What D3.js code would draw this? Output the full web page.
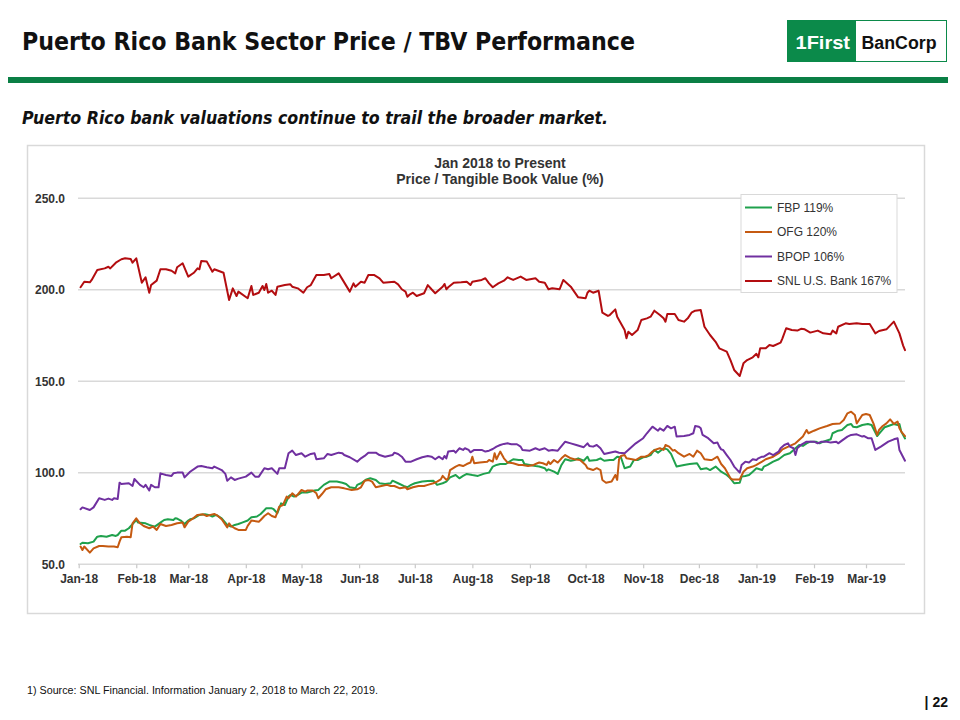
<!DOCTYPE html>
<html><head><meta charset="utf-8">
<script src="https://cdn.jsdelivr.net/npm/d3@7"></script>
<style>body{margin:0;background:#fff}svg{display:block}</style>
</head><body>
<svg id="c" width="960" height="720"></svg>
<script>
const seriesNames = ["FBP", "OFG", "BPOP", "SNL U.S. Bank"];
const legendLabels = ["FBP 119%", "OFG 120%", "BPOP 106%", "SNL U.S. Bank 167%"];
const seriesColors = ["#1fa14c", "#c55a11", "#7030a0", "#b30d10"];
const yTicks = [50, 100, 150, 200, 250];
const xDomain = ["18-01-01", "19-03-22"];

const fbp = [["18-01-02",61.1],["18-01-03",61.8],["18-01-06",61.5],["18-01-09",62.4],["18-01-11",65.1],["18-01-13",65.5],["18-01-16",65.1],["18-01-19",66],["18-01-21",65.5],["18-01-22",66],["18-01-24",68.4],["18-01-26",68.4],["18-01-28",69.7],["18-01-30",72],["18-02-01",74.2],["18-02-02",72.8],["18-02-06",72.4],["18-02-08",71.5],["18-02-11",70.6],["18-02-14",72.8],["18-02-16",74.2],["18-02-18",74.6],["18-02-21",74.2],["18-02-22",75.1],["18-02-23",75],["18-02-25",73.9],["18-02-27",72],["18-03-01",73.9],["18-03-02",74.6],["18-03-04",75.1],["18-03-07",77],["18-03-10",77.3],["18-03-12",77],["18-03-14",76.1],["18-03-16",77],["18-03-19",75.1],["18-03-22",71.5],["18-03-24",70.6],["18-03-26",71.5],["18-03-28",72],["18-03-30",72.8],["18-04-02",73.9],["18-04-04",75.7],["18-04-07",76.1],["18-04-09",77.5],["18-04-12",80.6],["18-04-15",80.6],["18-04-16",80.1],["18-04-18",77.9],["18-04-20",83.3],["18-04-22",82.4],["18-04-24",87],["18-04-25",87.9],["18-04-27",87],["18-04-29",87.9],["18-05-01",89.2],["18-05-04",89.2],["18-05-06",89.7],["18-05-08",90.3],["18-05-10",90.6],["18-05-13",93.4],["18-05-16",95.2],["18-05-20",95.2],["18-05-23",94.6],["18-05-25",93.9],["18-05-27",92.1],["18-05-30",91.5],["18-05-31",93.4],["18-06-02",94.3],["18-06-05",96.4],["18-06-07",97],["18-06-10",96.1],["18-06-12",94.3],["18-06-15",93.9],["18-06-18",94.3],["18-06-19",95.7],["18-06-22",94.3],["18-06-25",92.8],["18-06-27",92.1],["18-06-29",93.4],["18-07-01",94.3],["18-07-05",95.2],["18-07-08",95.5],["18-07-11",95.7],["18-07-13",93.4],["18-07-16",94.3],["18-07-18",95.2],["18-07-20",97.5],["18-07-23",98.8],["18-07-25",97],["18-07-27",98.3],["18-07-29",99.4],["18-08-01",98.8],["18-08-04",98.3],["18-08-07",99.4],["18-08-10",100.1],["18-08-12",103.4],["18-08-14",104.3],["18-08-16",104.8],["18-08-19",104.8],["18-08-21",106.1],["18-08-23",107.4],["18-08-26",107],["18-08-28",107],["18-08-29",104.8],["18-09-01",104.3],["18-09-04",103.7],["18-09-06",103.4],["18-09-09",102.5],["18-09-10",101.2],["18-09-11",101.9],["18-09-14",100.6],["18-09-16",99.4],["18-09-18",104.3],["18-09-20",107.4],["18-09-23",106.6],["18-09-25",107],["18-09-27",107.9],["18-09-30",106.6],["18-10-02",108.8],["18-10-03",106.6],["18-10-07",107],["18-10-09",107.9],["18-10-11",106.6],["18-10-14",107],["18-10-16",107],["18-10-18",108.8],["18-10-20",108.5],["18-10-22",102.5],["18-10-25",103.4],["18-10-27",107],["18-10-29",107],["18-11-01",108.5],["18-11-03",108.8],["18-11-05",109.7],["18-11-07",112.5],["18-11-09",111],["18-11-12",113.4],["18-11-14",112.8],["18-11-16",110.3],["18-11-19",103.4],["18-11-23",104.3],["18-11-26",104.8],["18-11-30",105.2],["18-12-02",101.9],["18-12-05",102.5],["18-12-07",101.5],["18-12-10",103.4],["18-12-13",100.6],["18-12-16",98.8],["18-12-18",97],["18-12-20",94.3],["18-12-23",94.6],["18-12-24",97.9],["18-12-26",98.3],["18-12-28",98.8],["18-12-30",100.6],["19-01-01",102.5],["19-01-04",101.5],["19-01-05",103.4],["19-01-07",104.3],["19-01-10",106.1],["19-01-13",107.4],["19-01-16",109.7],["19-01-19",110.7],["19-01-21",112.5],["19-01-24",115.2],["19-01-26",114.7],["19-01-28",116.1],["19-01-30",117],["19-02-02",117],["19-02-04",116.1],["19-02-06",117],["19-02-10",118.3],["19-02-11",121.6],["19-02-14",123],["19-02-16",123.4],["19-02-19",126.1],["19-02-21",126.7],["19-02-22",125.2],["19-02-24",124.9],["19-02-27",126.1],["19-03-02",126.7],["19-03-04",126.1],["19-03-07",120.1],["19-03-09",122.5],["19-03-11",124.9],["19-03-13",125.6],["19-03-16",126.7],["19-03-18",126.1],["19-03-19",126.7],["19-03-20",122.5],["19-03-22",118.8]];

const ofg = [["18-01-02",59.7],["18-01-03",57.8],["18-01-04",59.7],["18-01-07",56.4],["18-01-09",58.7],["18-01-12",60],["18-01-14",60],["18-01-17",59.7],["18-01-20",59.7],["18-01-22",59.3],["18-01-23",62.4],["18-01-24",64.8],["18-01-27",65.1],["18-01-29",64.8],["18-01-30",72.4],["18-02-01",75.1],["18-02-03",72.4],["18-02-05",70.9],["18-02-08",69.7],["18-02-10",70.6],["18-02-12",68.8],["18-02-14",72],["18-02-17",70.9],["18-02-20",71.5],["18-02-23",72.4],["18-02-26",72.8],["18-02-27",70.2],["18-03-01",73.3],["18-03-03",74.6],["18-03-06",77],["18-03-09",77.3],["18-03-11",76.4],["18-03-13",77],["18-03-15",77.5],["18-03-17",76.4],["18-03-19",74.6],["18-03-22",70.2],["18-03-23",72.4],["18-03-24",71],["18-03-26",69.7],["18-03-28",68.8],["18-04-01",68.8],["18-04-02",71],["18-04-04",73.9],["18-04-08",73.3],["18-04-09",74.2],["18-04-11",76.4],["18-04-13",77.9],["18-04-15",76.4],["18-04-17",75.7],["18-04-19",81.5],["18-04-21",82.4],["18-04-23",87],["18-04-24",86.1],["18-04-26",88.8],["18-04-28",87],["18-05-01",90.6],["18-05-03",89.7],["18-05-04",90.3],["18-05-07",90.3],["18-05-09",88.8],["18-05-10",86.1],["18-05-12",88.4],["18-05-14",91],["18-05-17",92.1],["18-05-21",92.1],["18-05-24",91.5],["18-05-28",90.6],["18-05-31",91],["18-06-02",92.1],["18-06-04",95.7],["18-06-06",96.1],["18-06-08",95.2],["18-06-10",92.1],["18-06-13",92.8],["18-06-16",93.4],["18-06-18",92.8],["18-06-20",92.8],["18-06-23",91.5],["18-06-26",92.1],["18-06-27",91],["18-06-30",92.1],["18-07-03",92.8],["18-07-06",92.8],["18-07-08",93.4],["18-07-11",94.3],["18-07-13",95.2],["18-07-15",96.4],["18-07-16",98.3],["18-07-18",96.1],["18-07-19",97],["18-07-20",101.5],["18-07-23",103.4],["18-07-25",104.3],["18-07-27",103.7],["18-07-29",104.8],["18-07-31",105.6],["18-08-01",108.8],["18-08-02",105.2],["18-08-05",105.6],["18-08-09",106.1],["18-08-10",107],["18-08-12",106.1],["18-08-13",110.7],["18-08-14",107.4],["18-08-16",111.6],["18-08-18",107.9],["18-08-20",105.6],["18-08-23",105.2],["18-08-26",104.3],["18-08-28",104.3],["18-08-31",103.7],["18-09-03",104.3],["18-09-05",105.2],["18-09-06",105.6],["18-09-08",105.2],["18-09-10",104.3],["18-09-11",106.1],["18-09-12",104.8],["18-09-14",107],["18-09-16",105.6],["18-09-18",107.9],["18-09-20",109.7],["18-09-23",107.9],["18-09-25",107.4],["18-09-28",107],["18-10-01",104.3],["18-10-02",102.5],["18-10-05",101.5],["18-10-07",102.5],["18-10-09",101.5],["18-10-10",96.1],["18-10-12",94.6],["18-10-15",95.2],["18-10-17",98.8],["18-10-18",96.1],["18-10-19",107.4],["18-10-20",109.2],["18-10-22",109.7],["18-10-23",107.9],["18-10-26",107.4],["18-10-28",107],["18-10-31",108.8],["18-11-02",108.8],["18-11-04",109.7],["18-11-06",111.6],["18-11-08",112.8],["18-11-10",113.4],["18-11-12",112.5],["18-11-13",115.2],["18-11-15",114.3],["18-11-17",112.1],["18-11-18",112.5],["18-11-20",110.7],["18-11-23",108.8],["18-11-26",110.3],["18-11-28",108.8],["18-11-30",112.1],["18-12-02",110.7],["18-12-04",107.4],["18-12-07",107],["18-12-08",107],["18-12-11",108.8],["18-12-13",104.8],["18-12-15",102.5],["18-12-18",97],["18-12-19",96.4],["18-12-23",96.4],["18-12-25",100.6],["18-12-27",102.5],["18-12-30",103.4],["19-01-01",104.3],["19-01-04",106.1],["19-01-06",107.4],["19-01-10",108.8],["19-01-13",110.7],["19-01-15",112.8],["19-01-19",114.7],["19-01-22",116.1],["19-01-26",119.8],["19-01-28",123.4],["19-01-29",121.6],["19-02-01",123],["19-02-04",124.3],["19-02-08",125.6],["19-02-11",126.7],["19-02-15",127],["19-02-17",128.9],["19-02-19",132.5],["19-02-21",133.4],["19-02-23",131.6],["19-02-24",127],["19-02-27",131.6],["19-03-01",132.1],["19-03-03",131.6],["19-03-05",127],["19-03-07",120.7],["19-03-08",123.4],["19-03-10",125.6],["19-03-12",127],["19-03-14",129.2],["19-03-16",126.7],["19-03-18",128],["19-03-19",124.3],["19-03-20",122.5],["19-03-22",120]];

const bpop = [["18-01-02",80.1],["18-01-03",81.1],["18-01-07",79.7],["18-01-09",81.1],["18-01-12",86.1],["18-01-15",85.2],["18-01-17",85.9],["18-01-19",85.2],["18-01-20",86.1],["18-01-22",85.7],["18-01-23",94.6],["18-01-24",93.9],["18-01-28",94.3],["18-01-30",92.8],["18-01-31",96.6],["18-02-03",93.4],["18-02-05",92.1],["18-02-06",93.4],["18-02-08",90.3],["18-02-09",93.4],["18-02-11",92.1],["18-02-13",92.1],["18-02-14",99.7],["18-02-17",98.8],["18-02-20",98.3],["18-02-21",99.7],["18-02-23",100.1],["18-02-26",100.1],["18-02-27",97.5],["18-03-02",100.6],["18-03-06",103.4],["18-03-08",103.7],["18-03-11",103],["18-03-14",102.5],["18-03-15",103.4],["18-03-19",101.5],["18-03-21",99.4],["18-03-22",95.7],["18-03-24",97.5],["18-03-26",96.1],["18-03-28",96.8],["18-04-01",97.9],["18-04-04",100.1],["18-04-06",97.9],["18-04-08",97.9],["18-04-11",102.5],["18-04-13",101.9],["18-04-15",102.5],["18-04-18",99.4],["18-04-19",102.5],["18-04-22",102.5],["18-04-24",110.7],["18-04-26",112.1],["18-04-28",109.7],["18-05-01",110.7],["18-05-03",108.8],["18-05-06",110.3],["18-05-08",110.7],["18-05-09",107.4],["18-05-13",107.9],["18-05-15",110.3],["18-05-17",109.7],["18-05-21",111],["18-05-23",110.7],["18-05-24",109.7],["18-05-27",108.5],["18-05-31",106.1],["18-06-02",107.9],["18-06-04",109.2],["18-06-06",111],["18-06-10",111],["18-06-12",109.7],["18-06-15",108.8],["18-06-19",109.7],["18-06-20",111],["18-06-22",110.3],["18-06-24",108.8],["18-06-26",106.1],["18-06-29",106.1],["18-07-02",107.4],["18-07-05",108.5],["18-07-08",109.2],["18-07-10",108.8],["18-07-12",107.4],["18-07-14",108.8],["18-07-16",107.4],["18-07-17",109.2],["18-07-18",107.9],["18-07-19",111.6],["18-07-22",112.1],["18-07-23",111],["18-07-25",113.4],["18-07-27",112.5],["18-07-28",113.4],["18-07-30",112.5],["18-07-31",111.2],["18-08-02",112.5],["18-08-06",112.5],["18-08-08",111.6],["18-08-10",112.1],["18-08-12",113],["18-08-14",114.3],["18-08-16",115.2],["18-08-18",115.8],["18-08-20",116.1],["18-08-22",115.6],["18-08-25",115.6],["18-08-27",114.3],["18-08-28",112.5],["18-09-01",112.1],["18-09-04",113.4],["18-09-06",112.5],["18-09-09",113.4],["18-09-11",112.1],["18-09-13",112.5],["18-09-16",112.1],["18-09-20",117],["18-09-23",116.1],["18-09-26",115.2],["18-09-30",114],["18-10-02",116.1],["18-10-03",114.7],["18-10-05",114.3],["18-10-07",115.2],["18-10-09",113.4],["18-10-11",110.3],["18-10-14",111],["18-10-17",111.6],["18-10-19",111],["18-10-22",110.7],["18-10-25",113.4],["18-10-28",116.1],["18-11-01",118.9],["18-11-03",121.6],["18-11-06",125.2],["18-11-09",123],["18-11-10",124.3],["18-11-12",123],["18-11-14",125.6],["18-11-16",124.3],["18-11-18",125.2],["18-11-19",119.8],["18-11-23",120.1],["18-11-26",120.7],["18-11-28",121.6],["18-11-29",125.6],["18-12-01",125.2],["18-12-02",124.3],["18-12-03",120.7],["18-12-06",118.9],["18-12-09",116.1],["18-12-11",116.5],["18-12-12",114.3],["18-12-13",112.8],["18-12-14",112.5],["18-12-16",109.7],["18-12-18",107],["18-12-20",103.4],["18-12-23",100.1],["18-12-24",104.3],["18-12-26",106.1],["18-12-28",105.6],["18-12-30",107.4],["19-01-01",107],["19-01-02",107.9],["19-01-04",108.8],["19-01-05",108.8],["19-01-08",110.7],["19-01-10",109.7],["19-01-11",110.3],["19-01-13",111.6],["19-01-14",113.4],["19-01-16",115.2],["19-01-18",116.1],["19-01-19",114.3],["19-01-21",113.4],["19-01-22",109.7],["19-01-23",113.4],["19-01-25",115.2],["19-01-28",117],["19-02-01",117],["19-02-03",116.1],["19-02-05",117],["19-02-08",117],["19-02-10",116.5],["19-02-13",117],["19-02-14",116.1],["19-02-16",117.6],["19-02-19",119.8],["19-02-21",120.7],["19-02-24",121],["19-02-27",119.8],["19-02-28",120.1],["19-03-02",118.9],["19-03-04",118.9],["19-03-06",112.5],["19-03-09",114.3],["19-03-13",117],["19-03-16",118.3],["19-03-18",118.9],["19-03-19",112.5],["19-03-22",106.6]];

const snl = [["18-01-02",201.4],["18-01-04",204.4],["18-01-07",204.1],["18-01-08",205.4],["18-01-11",210.8],["18-01-15",211.7],["18-01-17",212.6],["18-01-18",211.7],["18-01-21",214.8],["18-01-24",216.7],["18-01-26",217.2],["18-01-29",216.8],["18-01-30",214.8],["18-02-01",217.2],["18-02-04",203.9],["18-02-06",206.8],["18-02-08",198.4],["18-02-09",202.6],["18-02-12",205],["18-02-14",211.2],["18-02-17",211.2],["18-02-20",210.4],["18-02-22",209],["18-02-23",212.3],["18-02-26",214.5],["18-03-01",207.2],["18-03-04",209.3],["18-03-06",211.7],["18-03-07",211.2],["18-03-08",215.7],["18-03-11",215.4],["18-03-14",209.9],["18-03-15",211.2],["18-03-20",209.3],["18-03-23",194.4],["18-03-25",200.8],["18-03-27",196.6],["18-03-28",199],["18-04-02",195.4],["18-04-04",202.1],["18-04-05",197.2],["18-04-08",198.4],["18-04-10",202.1],["18-04-11",199.9],["18-04-12",203.2],["18-04-13",198.4],["18-04-15",199.5],["18-04-17",197.2],["18-04-18",201.7],["18-04-22",202.6],["18-04-25",203],["18-04-26",201.7],["18-04-29",200.8],["18-05-02",198.4],["18-05-04",201.4],["18-05-06",202.6],["18-05-09",208.1],["18-05-13",208.1],["18-05-16",208.6],["18-05-17",206.3],["18-05-21",209],["18-05-23",205.7],["18-05-27",199],["18-05-29",203.5],["18-05-30",201.7],["18-06-02",204.4],["18-06-04",203.9],["18-06-06",208.1],["18-06-09",208.1],["18-06-12",206.3],["18-06-14",203.9],["18-06-20",204.4],["18-06-22",203],["18-06-24",200.3],["18-06-26",199],["18-06-27",196.2],["18-06-28",197.2],["18-06-30",198.4],["18-07-02",196.6],["18-07-06",198.1],["18-07-08",202.6],["18-07-10",200.3],["18-07-12",198.1],["18-07-14",199.9],["18-07-16",201.7],["18-07-17",203.2],["18-07-18",200.3],["18-07-19",201.4],["18-07-22",203.9],["18-07-26",204.1],["18-07-29",204.4],["18-07-31",202.6],["18-08-01",204.4],["18-08-06",205.4],["18-08-08",206.3],["18-08-10",203.5],["18-08-12",201.4],["18-08-15",203.5],["18-08-18",205],["18-08-20",206.8],["18-08-23",205.4],["18-08-27",207.2],["18-08-30",205.4],["18-09-04",206.3],["18-09-06",204.4],["18-09-09",203.9],["18-09-11",200.3],["18-09-13",200.8],["18-09-17",200.3],["18-09-19",205.4],["18-09-23",201.7],["18-09-27",195.9],["18-10-01",195.4],["18-10-02",198.4],["18-10-03",199.5],["18-10-05",198.4],["18-10-08",199.5],["18-10-10",187.5],["18-10-13",185.7],["18-10-14",186.2],["18-10-17",189.3],["18-10-18",185.3],["18-10-22",178],["18-10-23",173.5],["18-10-24",177.1],["18-10-26",175.3],["18-10-29",178],["18-10-31",183.5],["18-11-03",184.4],["18-11-05",185.3],["18-11-07",188.6],["18-11-10",186.2],["18-11-12",184.4],["18-11-13",182.6],["18-11-14",186.8],["18-11-18",186.8],["18-11-20",183.5],["18-11-23",182.6],["18-11-25",184.4],["18-11-27",187.5],["18-11-29",188.6],["18-12-02",189],["18-12-04",179.8],["18-12-07",175.3],["18-12-10",171.6],["18-12-12",168],["18-12-16",166.2],["18-12-18",161.6],["18-12-20",156.2],["18-12-23",152.9],["18-12-25",159.8],["18-12-27",161.6],["18-12-30",163.1],["19-01-01",165],["19-01-02",163.1],["19-01-03",168],["19-01-06",168],["19-01-08",169.8],["19-01-10",169.3],["19-01-14",171.1],["19-01-15",173.5],["19-01-17",179],["19-01-20",178],["19-01-23",177.7],["19-01-25",178.7],["19-01-27",178.4],["19-01-30",176.6],["19-02-03",177.7],["19-02-06",176.2],["19-02-10",175.7],["19-02-11",177.7],["19-02-13",176.2],["19-02-14",179.8],["19-02-18",181.7],["19-02-20",181.3],["19-02-24",181.7],["19-02-27",181.3],["19-03-03",181.3],["19-03-06",176.2],["19-03-08",177.5],["19-03-12",178.4],["19-03-16",182.6],["19-03-19",176.2],["19-03-21",169.5],["19-03-22",167]];

const allSeries = [fbp, ofg, bpop, snl];

const parse = d3.timeParse("%y-%m-%d");
const svg = d3.select("#c");
const FONT = "'Liberation Sans', Arial, sans-serif";

// ----- header -----
svg.append("text").attr("x", 22).attr("y", 50)
  .attr("font-family", "'DejaVu Sans Condensed', 'DejaVu Sans', sans-serif")
  .attr("font-weight", "bold").attr("font-size", 25).attr("fill", "#111")
  .attr("textLength", 613).attr("lengthAdjust", "spacingAndGlyphs")
  .text("Puerto Rico Bank Sector Price / TBV Performance");

// logo
const logo = svg.append("g");
logo.append("rect").attr("x", 787.5).attr("y", 20.5).attr("width", 159).attr("height", 41)
  .attr("fill", "#fff").attr("stroke", "#0b8a4a").attr("stroke-width", 1);
logo.append("rect").attr("x", 787.5).attr("y", 20.5).attr("width", 68.5).attr("height", 41)
  .attr("fill", "#0b8a4a");
logo.append("text").attr("x", 795.5).attr("y", 48.5).attr("font-family", FONT)
  .attr("font-weight", "bold").attr("font-size", 18.5).attr("fill", "#fff")
  .attr("textLength", 54.5).attr("lengthAdjust", "spacingAndGlyphs").text("1First");
logo.append("text").attr("x", 861.5).attr("y", 48.5).attr("font-family", FONT)
  .attr("font-weight", "bold").attr("font-size", 17.5).attr("fill", "#111")
  .attr("textLength", 75).attr("lengthAdjust", "spacingAndGlyphs").text("BanCorp");

// green rule
svg.append("rect").attr("x", 8).attr("y", 77).attr("width", 940).attr("height", 6).attr("fill", "#0a7f45");

// subtitle
svg.append("text").attr("x", 22).attr("y", 124)
  .attr("font-family", "'DejaVu Sans Condensed', 'DejaVu Sans', sans-serif")
  .attr("font-weight", "bold").attr("font-style", "italic").attr("font-size", 17).attr("fill", "#111")
  .attr("textLength", 586).attr("lengthAdjust", "spacingAndGlyphs")
  .text("Puerto Rico bank valuations continue to trail the broader market.");

// ----- chart frame -----
svg.append("rect").attr("x", 27.5).attr("y", 145.5).attr("width", 897).attr("height", 468)
  .attr("fill", "#fff").attr("stroke", "#d9d9d9").attr("stroke-width", 1.5);

svg.append("text").attr("x", 500).attr("y", 167.5).attr("text-anchor", "middle")
  .attr("font-family", FONT).attr("font-weight", "bold").attr("font-size", 14).attr("fill", "#333")
  .text("Jan 2018 to Present");
svg.append("text").attr("x", 500).attr("y", 183.5).attr("text-anchor", "middle")
  .attr("font-family", FONT).attr("font-weight", "bold").attr("font-size", 14).attr("fill", "#333")
  .text("Price / Tangible Book Value (%)");

// scales
const x = d3.scaleTime().domain(xDomain.map(parse)).range([78.7, 905]);
const y = d3.scaleLinear().domain([50, 250]).range([564.3, 198.3]);

// gridlines
svg.append("g").selectAll("line").data(yTicks).join("line")
  .attr("x1", 78).attr("x2", 905)
  .attr("y1", d => y(d)).attr("y2", d => y(d))
  .attr("stroke", "#d9d9d9").attr("stroke-width", 1.4);

// y labels
svg.append("g").selectAll("text").data(yTicks).join("text")
  .attr("x", 65).attr("y", d => y(d)).attr("dy", "0.36em").attr("text-anchor", "end")
  .attr("font-family", FONT).attr("font-weight", "bold").attr("font-size", 12).attr("fill", "#333")
  .text(d3.format(".1f"));

// x axis
const monthTicks = d3.timeMonth.range(parse("18-01-01"), parse("19-03-02"));
const xAxis = svg.append("g").attr("transform", `translate(0,${y(50)})`)
  .call(d3.axisBottom(x).tickValues(monthTicks).tickFormat(d3.timeFormat("%b-%y")).tickSize(4).tickPadding(6));
xAxis.select(".domain").remove();
xAxis.selectAll(".tick line").attr("stroke", "#c8c8c8").attr("stroke-width", 1.2);
xAxis.selectAll(".tick text").attr("font-family", FONT).attr("font-weight", "bold")
  .attr("font-size", 12).attr("fill", "#333");

// lines
const line = d3.line().x(d => x(parse(d[0]))).y(d => y(d[1]));
svg.append("g").selectAll("path").data(allSeries).join("path")
  .attr("d", line).attr("fill", "none")
  .attr("stroke", (d, i) => seriesColors[i]).attr("stroke-width", 2)
  .attr("stroke-linejoin", "round").attr("stroke-linecap", "round");

// legend
const lg = svg.append("g");
lg.append("rect").attr("x", 741).attr("y", 194.5).attr("width", 156).attr("height", 98)
  .attr("fill", "#fff").attr("stroke", "#d9d9d9").attr("stroke-width", 1);
const items = lg.selectAll("g").data(seriesNames).join("g")
  .attr("transform", (d, i) => `translate(0,${207.5 + i * 24.5})`);
items.append("line").attr("x1", 745).attr("x2", 772).attr("y1", 0).attr("y2", 0)
  .attr("stroke", (d, i) => seriesColors[i]).attr("stroke-width", 2);
items.append("text").attr("x", 777).attr("y", 0).attr("dy", "0.36em")
  .attr("font-family", FONT).attr("font-size", 12).attr("fill", "#333")
  .text((d, i) => legendLabels[i]);

// footer
svg.append("text").attr("x", 27).attr("y", 694)
  .attr("font-family", FONT).attr("font-size", 10).attr("fill", "#111")
  .attr("textLength", 351).attr("lengthAdjust", "spacingAndGlyphs")
  .text("1) Source: SNL Financial. Information January 2, 2018 to March 22, 2019.");
svg.append("text").attr("x", 948).attr("y", 707).attr("text-anchor", "end")
  .attr("font-family", FONT).attr("font-weight", "bold").attr("font-size", 14).attr("fill", "#111")
  .text("| 22");
</script>
</body></html>
